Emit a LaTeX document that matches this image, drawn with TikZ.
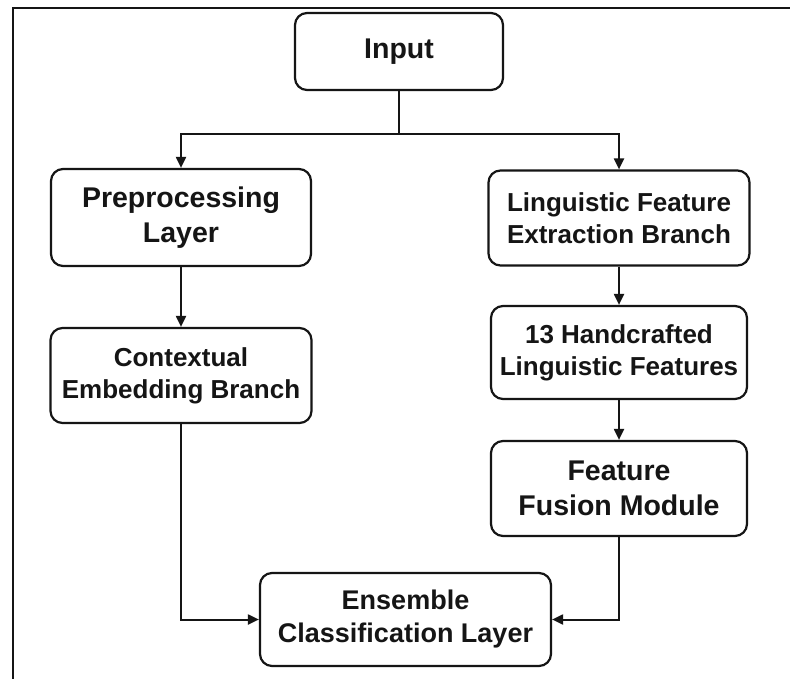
\documentclass[tikz,border=0pt]{standalone}
\usepackage{fontspec}
\setmainfont{Liberation Sans}
\usetikzlibrary{arrows.meta}
\definecolor{ink}{HTML}{151515}
\tikzset{
  box/.style={draw=ink, text=ink, rounded corners=12pt, line width=2.2pt, align=center,
    font=\bfseries\fontsize{26}{32}\selectfont, inner sep=0pt},
  big/.style={font=\bfseries\fontsize{28.5}{35}\selectfont},
  mid/.style={font=\bfseries\fontsize{27}{33}\selectfont},
  arr/.style={draw=ink, line width=2pt, -{Triangle[length=11pt,width=10pt]}},
  ln/.style={draw=ink, line width=2pt}
}
\begin{document}
\begin{tikzpicture}[x=1pt,y=-1pt]
\useasboundingbox (0,0) rectangle (790,679);
\fill[white] (0,0) rectangle (790,679);
\draw[ink, line width=2.2pt] (790,8) -- (13,8) -- (13,679);
\node[box, big, minimum width=208pt, minimum height=77pt] (in) at (399,51.5) {Input};
\node[box, big, minimum width=260pt, minimum height=97pt] (prep) at (181,217.5) {Preprocessing\\Layer};
\node[box, minimum width=261pt, minimum height=95pt] (ling) at (619,218) {Linguistic Feature\\Extraction Branch};
\node[box, minimum width=261pt, minimum height=95pt] (ctx) at (181,375.5) {Contextual\\Embedding Branch};
\node[box, minimum width=256pt, minimum height=93pt] (hand) at (619,352.5) {13 Handcrafted\\Linguistic Features};
\node[box, big, minimum width=256pt, minimum height=95pt] (fus) at (619,488.5) {Feature\\Fusion Module};
\node[box, mid, minimum width=291pt, minimum height=93pt] (ens) at (405.5,619.5) {Ensemble\\Classification Layer};
\coordinate (j) at (399,134);
\draw[ln] (in.south) -- (j);
\draw[arr] (j) -| (prep.north);
\draw[arr] (j) -| (ling.north);
\draw[arr] (prep.south) -- (ctx.north);
\draw[arr] (ling.south) -- (hand.north);
\draw[arr] (hand.south) -- (fus.north);
\draw[arr] (ctx.south) |- (ens.west);
\draw[arr] (fus.south) |- (ens.east);
\end{tikzpicture}
\end{document}
